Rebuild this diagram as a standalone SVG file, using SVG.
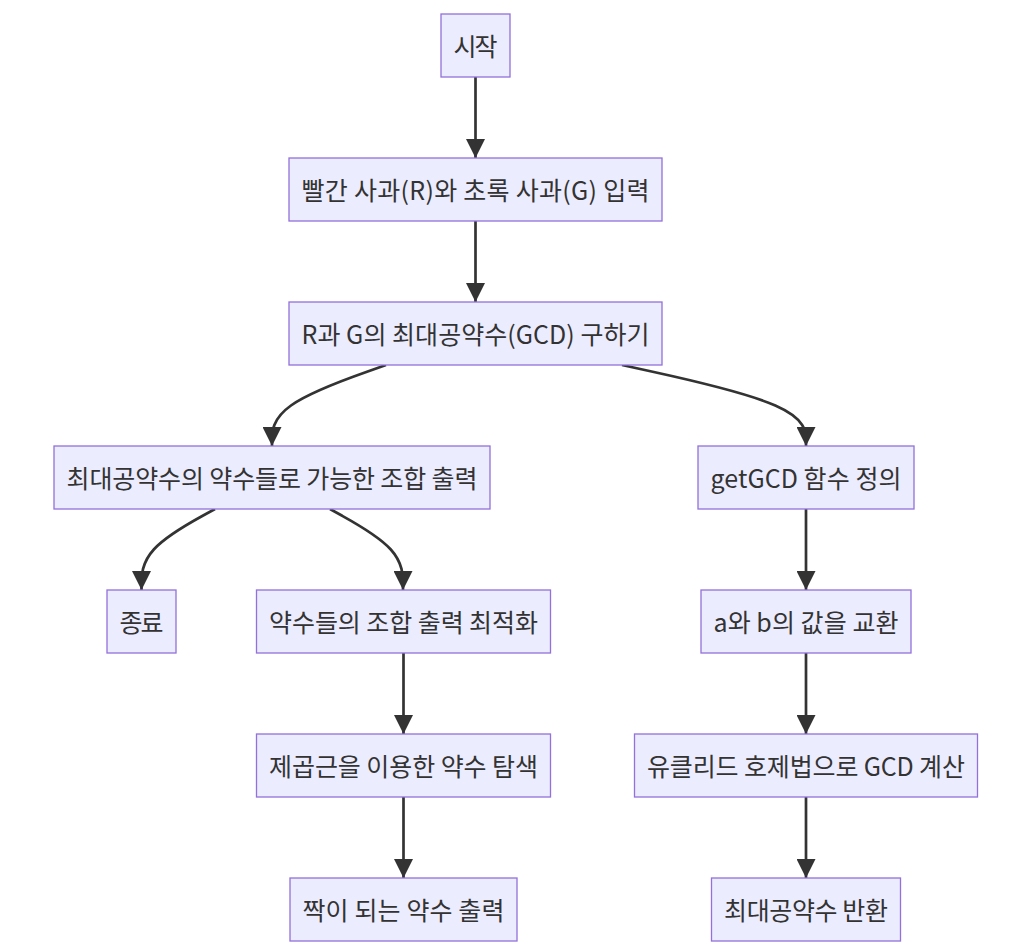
<svg xmlns="http://www.w3.org/2000/svg" width="1028" height="952" viewBox="0 0 1028 952">
<defs>
<style>
.node rect{fill:#ECECFF;stroke:#9370DB;stroke-width:1.3px;}
.node text{font-family:"Noto Sans CJK KR","Noto Sans",sans-serif;font-size:25px;fill:#333333;text-anchor:middle;dominant-baseline:central;}
.edges path{fill:none;stroke:#333333;stroke-width:2.7px;}
</style>
<marker id="arrow" viewBox="0 0 10 10" refX="10" refY="5" markerUnits="userSpaceOnUse" markerWidth="20" markerHeight="19" orient="auto">
<path d="M0,0 L10,5 L0,10 z" fill="#333333" stroke="none"/>
</marker>
</defs>
<rect x="0" y="0" width="1028" height="952" fill="#ffffff"/>
<g class="edges">
<path marker-end="url(#arrow)" d="M475.5,77 L475.5,158"/>
<path marker-end="url(#arrow)" d="M475.5,221 L475.5,302"/>
<path marker-end="url(#arrow)" d="M386,365 L367,371.8 C348,378.5 310,392 291,405.5 C272,419 272,432.5 272,439.2 L272,446"/>
<path marker-end="url(#arrow)" d="M622,365 L652.7,371.8 C683.3,378.5 744.7,392 775.3,405.5 C806,419 806,432.5 806,439.2 L806,446"/>
<path marker-end="url(#arrow)" d="M215,509 L202.7,515.8 C190.5,522.5 166,536 153.8,549.5 C141.5,563 141.5,576.5 141.5,583.2 L141.5,590"/>
<path marker-end="url(#arrow)" d="M330,509 L342.2,515.8 C354.3,522.5 378.7,536 390.8,549.5 C403,563 403,576.5 403,583.2 L403,590"/>
<path marker-end="url(#arrow)" d="M403.5,653 L403.5,734"/>
<path marker-end="url(#arrow)" d="M403.5,797 L403.5,878"/>
<path marker-end="url(#arrow)" d="M806,509 L806,590"/>
<path marker-end="url(#arrow)" d="M806,653 L806,734"/>
<path marker-end="url(#arrow)" d="M806,797 L806,878"/>
</g>
<g class="node" id="start"><rect x="441" y="14" width="69" height="63"/><text x="475.5" y="44.8" textLength="44" lengthAdjust="spacing">시작</text></g>
<g class="node" id="input"><rect x="289" y="158" width="373" height="63"/><text x="475.5" y="188.8" textLength="348" lengthAdjust="spacing">빨간 사과(R)와 초록 사과(G) 입력</text></g>
<g class="node" id="gcd"><rect x="289" y="302" width="373" height="63"/><text x="475.5" y="332.8" textLength="348" lengthAdjust="spacing">R과 G의 최대공약수(GCD) 구하기</text></g>
<g class="node" id="combo"><rect x="54" y="446" width="436" height="63"/><text x="272" y="476.8" textLength="411" lengthAdjust="spacing">최대공약수의 약수들로 가능한 조합 출력</text></g>
<g class="node" id="getgcd"><rect x="698" y="446" width="216" height="63"/><text x="806" y="476.8" textLength="191" lengthAdjust="spacing">getGCD 함수 정의</text></g>
<g class="node" id="end"><rect x="107" y="590" width="69" height="63"/><text x="141.5" y="620.8" textLength="44" lengthAdjust="spacing">종료</text></g>
<g class="node" id="optimize"><rect x="256.5" y="590" width="294" height="63"/><text x="403.5" y="620.8" textLength="269" lengthAdjust="spacing">약수들의 조합 출력 최적화</text></g>
<g class="node" id="swap"><rect x="701" y="590" width="210" height="63"/><text x="806" y="620.8" textLength="185" lengthAdjust="spacing">a와 b의 값을 교환</text></g>
<g class="node" id="sqrt"><rect x="256.5" y="734" width="294" height="63"/><text x="403.5" y="764.8" textLength="269" lengthAdjust="spacing">제곱근을 이용한 약수 탐색</text></g>
<g class="node" id="euclid"><rect x="634.5" y="734" width="343" height="63"/><text x="806" y="764.8" textLength="318" lengthAdjust="spacing">유클리드 호제법으로 GCD 계산</text></g>
<g class="node" id="pairs"><rect x="290" y="878" width="227" height="63"/><text x="403.5" y="908.8" textLength="202" lengthAdjust="spacing">짝이 되는 약수 출력</text></g>
<g class="node" id="ret"><rect x="711.5" y="878" width="189" height="63"/><text x="806" y="908.8" textLength="164" lengthAdjust="spacing">최대공약수 반환</text></g>
</svg>
